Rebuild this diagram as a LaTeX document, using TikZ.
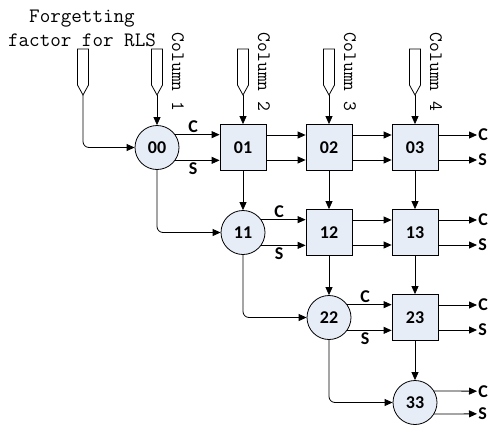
\documentclass[tikz,border=0pt]{standalone}
\usepackage{fontspec}
\usepackage{tikz}
\usetikzlibrary{arrows.meta}
\newfontfamily\cellfont{Carlito}
\definecolor{cellblue}{RGB}{231,237,247}

% input port: a pointed tag at x=#1, tip named #2
\newcommand{\inport}[2]{%
  \draw[thick] (#1-5.5,49)--(#1+5.5,49)--(#1+5.5,85)--(#1,95)--(#1-5.5,85)--cycle;
  \coordinate (#2) at (#1,95);}

\begin{document}
\begin{tikzpicture}[x=1pt,y=-1pt,
    >={Triangle[length=8pt,width=7pt]},
    pe/.style={circle,draw,thick,fill=cellblue,minimum size=44pt,inner sep=0pt,font=\cellfont\bfseries\fontsize{18}{18}\selectfont},
    cell/.style={rectangle,draw,thick,fill=cellblue,minimum size=46pt,inner sep=0pt,font=\cellfont\bfseries\fontsize{18}{18}\selectfont},
    lab/.style={font=\cellfont\bfseries\fontsize{18}{18}\selectfont,inner sep=1pt},
    wire/.style={->,thick},
    feed/.style={->,thick,rounded corners=6pt},
    colname/.style={rotate=-90,font=\ttfamily\fontsize{19}{19}\selectfont,inner sep=0pt}]
    \useasboundingbox (0,0) rectangle (495,431);

    % processing elements
    \node[pe]  (n00) at (157,147.5){00};
    \node[cell](n01) at (243,147.5){01};
    \node[cell](n02) at (329,147.5){02};
    \node[cell](n03) at (415,147.5){03};
    \node[pe]  (n11) at (243,232.5){11};
    \node[cell](n12) at (329,232.5){12};
    \node[cell](n13) at (415,232.5){13};
    \node[pe]  (n22) at (329,317.5){22};
    \node[cell](n23) at (415,317.5){23};
    \node[pe]  (n33) at (415,402.5){33};

    % inputs
    \inport{83}{fin}
    \inport{157}{c1}
    \inport{243}{c2}
    \inport{329}{c3}
    \inport{415}{c4}
    \node[align=center,font=\ttfamily\fontsize{20.5}{24}\selectfont,inner sep=0pt] (ff) at (82,28){Forgetting\\factor for RLS};
    \node[colname] (t1) at (178,72){Column 1};
    \node[colname] (t2) at (264,72){Column 2};
    \node[colname] (t3) at (350,72){Column 3};
    \node[colname] (t4) at (436,72){Column 4};

    \draw[wire] (c1)--(n00.north);
    \draw[wire] (c2)--(n01.north);
    \draw[wire] (c3)--(n02.north);
    \draw[wire] (c4)--(n03.north);
    \draw[feed] (fin)|-(n00.west);

    % rotations C and S along the rows
    \draw[wire] (n00.35)--(n01.west|-n00.35)node[lab,pos=0.4,above=1pt]{C};
    \draw[wire] (n00.-35)--(n01.west|-n00.-35)node[lab,pos=0.4,below=1pt]{S};
    \draw[wire] (n01.east|-0,135)--(n02.west|-0,135);
    \draw[wire] (n01.east|-0,160)--(n02.west|-0,160);
    \draw[wire] (n02.east|-0,135)--(n03.west|-0,135);
    \draw[wire] (n02.east|-0,160)--(n03.west|-0,160);
    \draw[wire] (n03.east|-0,135)--(477,135)node[lab,right]{C};
    \draw[wire] (n03.east|-0,160)--(477,160)node[lab,right]{S};

    \draw[wire] (n11.35)--(n12.west|-n11.35)node[lab,pos=0.4,above=1pt]{C};
    \draw[wire] (n11.-35)--(n12.west|-n11.-35)node[lab,pos=0.4,below=1pt]{S};
    \draw[wire] (n12.east|-0,220)--(n13.west|-0,220);
    \draw[wire] (n12.east|-0,245)--(n13.west|-0,245);
    \draw[wire] (n13.east|-0,220)--(477,220)node[lab,right]{C};
    \draw[wire] (n13.east|-0,245)--(477,245)node[lab,right]{S};

    \draw[wire] (n22.35)--(n23.west|-n22.35)node[lab,pos=0.4,above=1pt]{C};
    \draw[wire] (n22.-35)--(n23.west|-n22.-35)node[lab,pos=0.4,below=1pt]{S};
    \draw[wire] (n23.east|-0,305)--(477,305)node[lab,right]{C};
    \draw[wire] (n23.east|-0,330)--(477,330)node[lab,right]{S};

    \draw[wire] (n33.31)--(477,{402.5-22*sin(31)})node[lab,right]{C};
    \draw[wire] (n33.-31)--(477,{402.5+22*sin(31)})node[lab,right]{S};

    % columns down
    \draw[wire] (n01)--(n11);
    \draw[wire] (n02)--(n12);
    \draw[wire] (n03)--(n13);
    \draw[wire] (n12)--(n22);
    \draw[wire] (n13)--(n23);
    \draw[wire] (n23)--(n33);

    % diagonal feed
    \draw[feed] (n00.south)|-(n11.west);
    \draw[feed] (n11.south)|-(n22.west);
    \draw[feed] (n22.south)|-(n33.west);
\end{tikzpicture}
\end{document}
